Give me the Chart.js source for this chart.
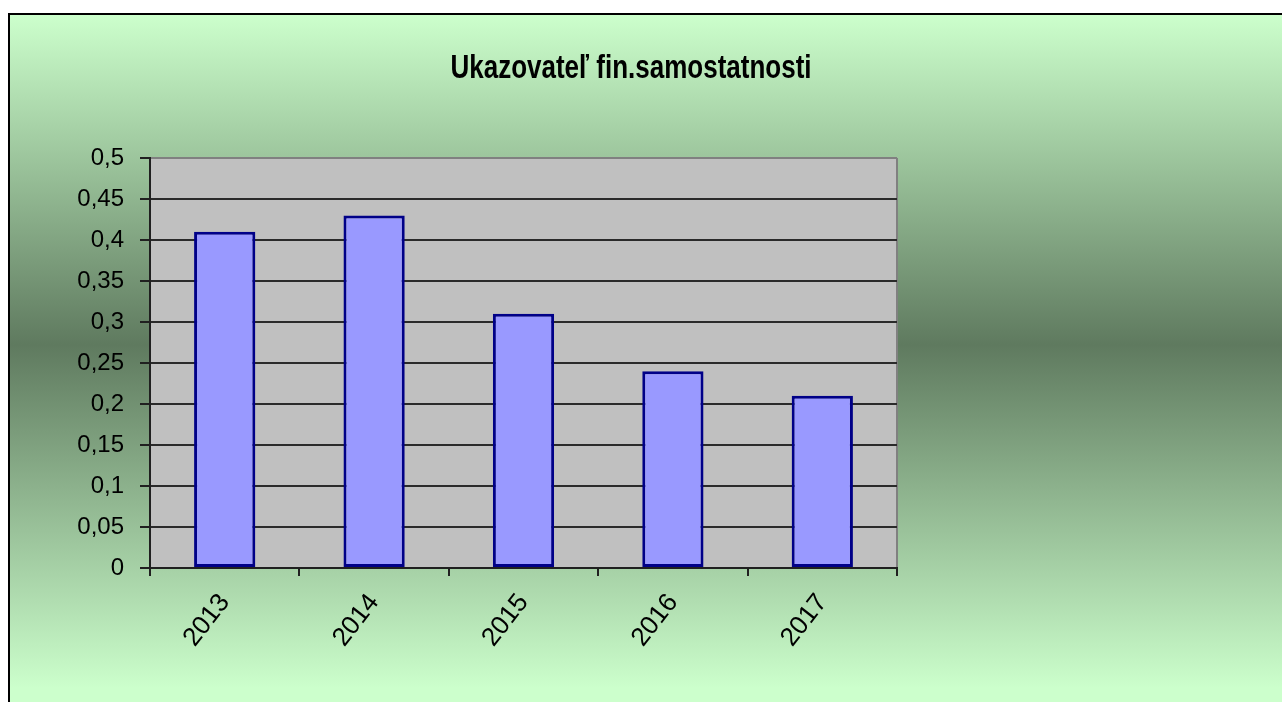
<!DOCTYPE html>
<html>
<head>
<meta charset="utf-8">
<script src="https://cdn.jsdelivr.net/npm/chart.js@4/dist/chart.umd.min.js"></script>
<style>
    html, body { margin: 0; padding: 0; background: #fff; }
    #box {
        position: absolute;
        left: 8px;
        top: 13px;
        width: 1274px;
        height: 689px;
        box-sizing: border-box;
        border-left: 2px solid #000;
        border-top: 2px solid #000;
        background: linear-gradient(to bottom, #ccffcc 0%, #5f7a5f 48%, #ccffcc 98%, #ccffcc 100%);
        overflow: hidden;
    }
    #myChart { display: block; }
</style>
</head>
<body>
<div id="box"><canvas id="myChart" width="1272" height="687"></canvas></div>
<script>
// data
const years = ['2013', '2014', '2015', '2016', '2017'];
const ratioValues = [0.41, 0.43, 0.31, 0.24, 0.21];
const chartTitle = 'Ukazovateľ fin.samostatnosti';

const FONT = "'Liberation Sans', Arial, sans-serif";

/* fond gris de la zone de tracé + titre */
const plotBg = {
    id: 'plotBg',
    beforeDraw(chart) {
        const a = chart.chartArea;
        const c = chart.ctx;
        c.save();
        c.fillStyle = '#c0c0c0';
        c.fillRect(a.left, a.top, a.right - a.left, a.bottom - a.top);
        c.strokeStyle = '#808080';
        c.lineWidth = 2;
        c.beginPath();
        c.moveTo(a.right, a.top);
        c.lineTo(a.right, a.bottom);
        c.stroke();
        c.restore();
    },
    afterDraw(chart) {
        const c = chart.ctx;
        c.save();
        c.fillStyle = '#000';
        c.font = 'bold 26px ' + FONT;
        c.textAlign = 'center';
        c.textBaseline = 'middle';
        c.translate(621, 54);
        c.scale(1, 1.25);
        c.fillText(chartTitle, 0, 0);
        c.restore();
    }
};

const ctx = document.getElementById('myChart').getContext('2d');
const myChart = new Chart(ctx, {
    type: 'bar',
    data: {
        labels: years,
        datasets: [{
            data: ratioValues,
            backgroundColor: '#9999ff',
            borderColor: '#000088',
            borderWidth: 3,
            borderSkipped: false,
            categoryPercentage: 1,
            barPercentage: 0.41
        }]
    },
    options: {
        responsive: false,
        animation: false,
        layout: {
            padding: { top: 143, left: 0, right: 385, bottom: 0 }
        },
        plugins: {
            legend: { display: false },
            title: { display: false },
            tooltip: { enabled: false }
        },
        scales: {
            x: {
                grid: {
                    offset: true,
                    drawOnChartArea: false,
                    tickLength: 8,
                    tickColor: '#202020',
                    lineWidth: 2
                },
                border: { color: '#202020', width: 2 },
                ticks: {
                    color: '#000',
                    minRotation: 52,
                    maxRotation: 52,
                    padding: 12,
                    font: { size: 26, family: FONT }
                },
                afterFit(scale) { scale.height = 134; }
            },
            y: {
                min: 0,
                max: 0.5,
                grid: {
                    color: (c) => (c.tick && c.tick.value === 0.5) ? '#808080' : '#2a2a2a',
                    lineWidth: 2,
                    tickLength: 10,
                    tickColor: '#202020'
                },
                border: { color: '#202020', width: 2 },
                ticks: {
                    stepSize: 0.05,
                    color: '#000',
                    padding: 16,
                    font: { size: 24, family: FONT },
                    callback: (v) => String(Math.round(v * 100) / 100).replace('.', ',')
                },
                afterFit(scale) { scale.width = 140; }
            }
        }
    },
    plugins: [plotBg]
});
</script>
</body>
</html>
